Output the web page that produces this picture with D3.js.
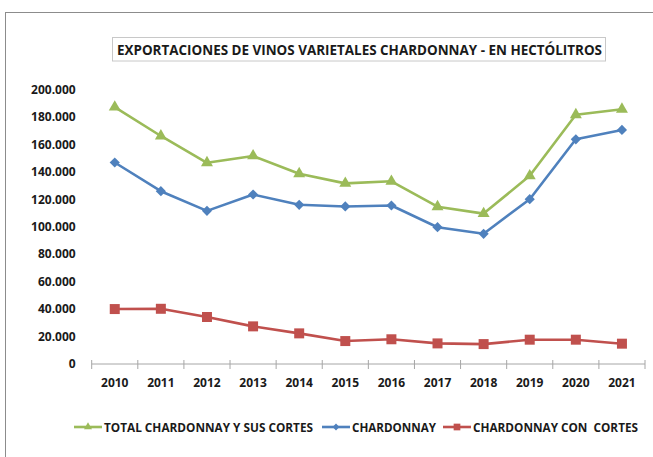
<!DOCTYPE html>
<html>
<head>
<meta charset="utf-8">
<script src="https://cdn.jsdelivr.net/npm/d3@7"></script>
<style>
  body { margin: 0; background: #fff; }
  text { font-family: "Open Sans", "Liberation Sans", sans-serif; font-weight: bold; fill: #1a1a1a; white-space: pre; }
</style>
</head>
<body>
<div class="chart"></div>
<script>
const svgWidth = 653
const svgHeight = 457

// data (hectolitres)
const years = ["2010", "2011", "2012", "2013", "2014", "2015", "2016", "2017", "2018", "2019", "2020", "2021"]
const total = [187000, 166000, 146500, 151500, 138500, 131500, 133000, 114500, 109500, 137000, 181500, 185500]
const chardonnay = [146700, 125800, 111500, 123400, 115900, 114700, 115400, 99600, 94800, 120000, 163600, 170400]
const conCortes = [40000, 40200, 34200, 27400, 22300, 16700, 18000, 15000, 14500, 17700, 17700, 14800]
const yTicks = [0, 20000, 40000, 60000, 80000, 100000, 120000, 140000, 160000, 180000, 200000]

const series = [
	{ name: "TOTAL CHARDONNAY Y SUS CORTES", values: total, color: "#9BBB59", symbol: d3.symbolTriangle, size: 62, rot: 0, legendX: 74, legendW: 209 },
	{ name: "CHARDONNAY", values: chardonnay, color: "#4F81BD", symbol: d3.symbolSquare, size: 52, rot: 45, legendX: 322, legendW: 84 },
	{ name: "CHARDONNAY CON  CORTES", values: conCortes, color: "#C0504D", symbol: d3.symbolSquare, size: 100, rot: 0, legendX: 443, legendW: 165 }
]

let svg = d3.select(".chart")
	.append("svg")
	.attr("width", svgWidth)
	.attr("height", svgHeight)

// outer chart frame
svg.append("rect")
	.attr("x", 5.5)
	.attr("y", 12.5)
	.attr("width", 700)
	.attr("height", 500)
	.attr("fill", "#fff")
	.attr("stroke", "#8c8c8c")

// title box
svg.append("rect")
	.attr("x", 112.5)
	.attr("y", 37.5)
	.attr("width", 493)
	.attr("height", 23.5)
	.attr("fill", "#fff")
	.attr("stroke", "#c8c8c8")

svg.append("text")
	.attr("x", 117)
	.attr("y", 55)
	.attr("font-size", 14)
	.attr("textLength", 485)
	.attr("lengthAdjust", "spacingAndGlyphs")
	.text("EXPORTACIONES DE VINOS VARIETALES CHARDONNAY - EN HECTÓLITROS")

let x = d3.scaleBand()
	.domain(years)
	.range([91.7, 645])

let y = d3.scaleLinear()
	.domain([0, 200000])
	.range([364, 89.3])

const cx = d => x(d) + x.bandwidth() / 2

let fmt = d3.formatLocale({ decimal: ",", thousands: ".", grouping: [3], currency: ["", ""] }).format(",")

// y axis labels only
let yAxis = svg.append("g")
	.attr("transform", `translate(${x.range()[0]}, 0)`)
	.call(d3.axisLeft(y).tickValues(yTicks).tickSize(0).tickPadding(16).tickFormat(fmt))
yAxis.select(".domain").remove()
yAxis.selectAll("text").attr("font-size", 12).attr("fill", "#1a1a1a")

// x axis line and boundary ticks
let xg = svg.append("g")
xg.append("line")
	.attr("x1", x.range()[0]).attr("x2", x.range()[1])
	.attr("y1", y(0)).attr("y2", y(0))
	.attr("stroke", "#a6a6a6")
xg.selectAll(".tk")
	.data(years.map(d => x(d)).concat([x.range()[1]]))
	.enter()
	.append("line")
	.attr("x1", d => d).attr("x2", d => d)
	.attr("y1", y(0) - 4).attr("y2", y(0) + 5)
	.attr("stroke", "#a6a6a6")

let xAxis = svg.append("g")
	.attr("transform", `translate(0, ${y(0)})`)
	.call(d3.axisBottom(x).tickSize(0).tickPadding(14))
xAxis.select(".domain").remove()
xAxis.selectAll("text").attr("font-size", 12).attr("fill", "#1a1a1a")

let line = d3.line()
	.x((d, i) => cx(years[i]))
	.y(d => y(d))

series.forEach(s => {
	svg.append("path")
		.datum(s.values)
		.attr("d", line)
		.attr("fill", "none")
		.attr("stroke", s.color)
		.attr("stroke-width", 2.6)
		.attr("stroke-linejoin", "round")

	svg.selectAll(null)
		.data(s.values)
		.enter()
		.append("path")
		.attr("transform", (d, i) => `translate(${cx(years[i])}, ${y(d)}) rotate(${s.rot})`)
		.attr("d", d3.symbol().type(s.symbol).size(s.size))
		.attr("fill", s.color)

	// legend
	let lg = svg.append("g").attr("transform", `translate(${s.legendX}, 427)`)
	lg.append("line")
		.attr("x1", 0).attr("x2", 28)
		.attr("stroke", s.color)
		.attr("stroke-width", 2.6)
	lg.append("path")
		.attr("transform", `translate(14, 0) rotate(${s.rot})`)
		.attr("d", d3.symbol().type(s.symbol).size(s.size * 0.45))
		.attr("fill", s.color)
	lg.append("text")
		.attr("x", 30)
		.attr("y", 4.5)
		.attr("font-size", 12.5)
		.attr("textLength", s.legendW)
		.attr("lengthAdjust", "spacingAndGlyphs")
		.attr("xml:space", "preserve")
		.text(s.name)
})
</script>
</body>
</html>
